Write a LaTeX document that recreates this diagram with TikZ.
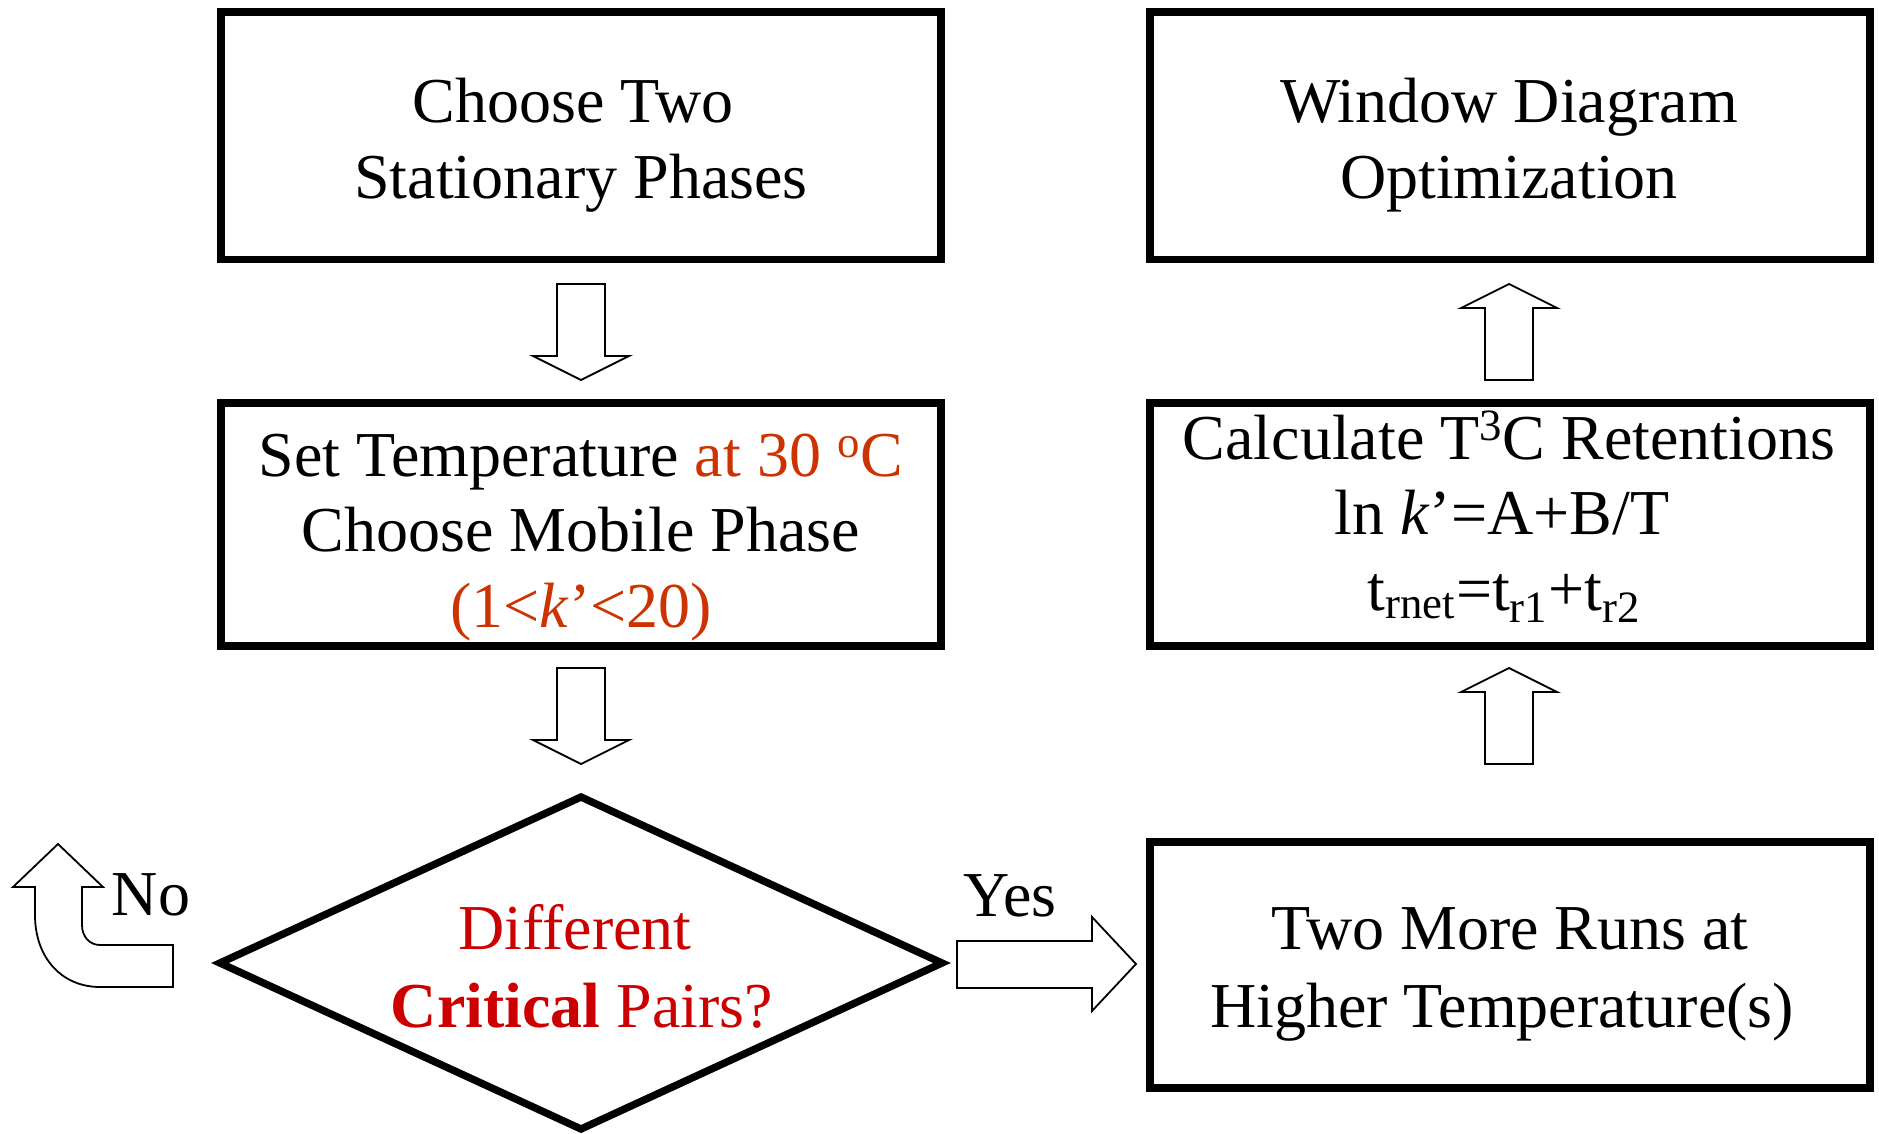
\documentclass[tikz,border=0pt]{standalone}
\usepackage{fontspec}
\setmainfont{Liberation Serif}
\definecolor{orng}{RGB}{204,51,0}
\definecolor{dred}{RGB}{204,0,0}
\tikzset{
  box/.style={draw=black, line width=3.7pt, fill=white, inner sep=0pt},
  wide/.style={box, minimum width=360pt},
  blk/.style={draw=black, line width=0.9pt, fill=white, line join=miter},
  txt/.style={anchor=base, inner sep=0pt, font=\fontsize{32}{38}\selectfont},
}
\begin{document}
\begin{tikzpicture}[x=0.5pt, y=-0.5pt]
\useasboundingbox (0,0) rectangle (1879,1134);
% boxes
\node[wide, minimum height=123.75pt] (b1) at (581,135.75) {};
\node[wide, minimum height=121.5pt] (b2) at (581,524.5) {};
\node[wide, minimum height=123.75pt] (bw) at (1510,135.75) {};
\node[wide, minimum height=121.5pt] (bc) at (1510,524.5) {};
\node[wide, minimum height=123pt] (bt) at (1510,965) {};
% diamond
\coordinate (dL) at (220,963);
\coordinate (dT) at (581,797);
\coordinate (dR) at (942,963);
\coordinate (dB) at (581,1129);
\draw[box, line join=miter] (dL) -- (dT) -- (dR) -- (dB) -- cycle;
% block arrows
\draw[blk] (557,284) -- (605,284) -- (605,356) -- (629,356) -- (581,380) -- (533,356) -- (557,356) -- cycle;
\draw[blk] (557,668) -- (605,668) -- (605,740) -- (629,740) -- (581,764) -- (533,740) -- (557,740) -- cycle;
\draw[blk] (1485,380) -- (1533,380) -- (1533,308) -- (1557,308) -- (1509,284) -- (1461,308) -- (1485,308) -- cycle;
\draw[blk] (1485,764) -- (1533,764) -- (1533,692) -- (1557,692) -- (1509,668) -- (1461,692) -- (1485,692) -- cycle;
\draw[blk] (957,941) -- (1092,941) -- (1092,917) -- (1136,964) -- (1092,1011) -- (1092,988) -- (957,988) -- cycle;
\draw[blk] (35,887) -- (35,915) .. controls (35,958) and (62,987) .. (100,987) -- (173,987) -- (173,945) -- (100,945)
  .. controls (90,945) and (82,937) .. (82,925) -- (82,887) -- (103,887) -- (58,844) -- (13,887) -- cycle;
% texts
\node[txt] (t11) at (573,123) {Choose Two};
\node[txt] (t12) at (581,199) {Stationary Phases};
\node[txt] (t21) at (581,476) {Set Temperature \textcolor{orng}{at 30 \textsuperscript{o}C}};
\node[txt] (t22) at (581,551) {Choose Mobile Phase};
\node[txt, text=orng] (t23) at (581,627) {(1<\textit{k}’<20)};
\node[txt, text=dred] (td1) at (575,949) {Different};
\node[txt, text=dred] (td2) at (582,1027) {\textbf{Critical} Pairs?};
\node[txt] (tw1) at (1509,123) {Window Diagram};
\node[txt] (tw2) at (1509,199) {Optimization};
\node[txt] (tc1) at (1509,459) {Calculate T\textsuperscript{3}C Retentions};
\node[txt] (tc2) at (1502,534) {ln \textit{k}’=A+B/T};
\node[txt] (tc3) at (1504,610) {t\textsubscript{rnet}=t\textsubscript{r1}+t\textsubscript{r2}};
\node[txt] (tt1) at (1510,949) {Two More Runs at};
\node[txt] (tt2) at (1502,1027) {Higher Temperature(s)};
\node[txt] (tno) at (151,915) {No};
\node[txt] (tyes) at (1010,916) {Yes};
\end{tikzpicture}
\end{document}
